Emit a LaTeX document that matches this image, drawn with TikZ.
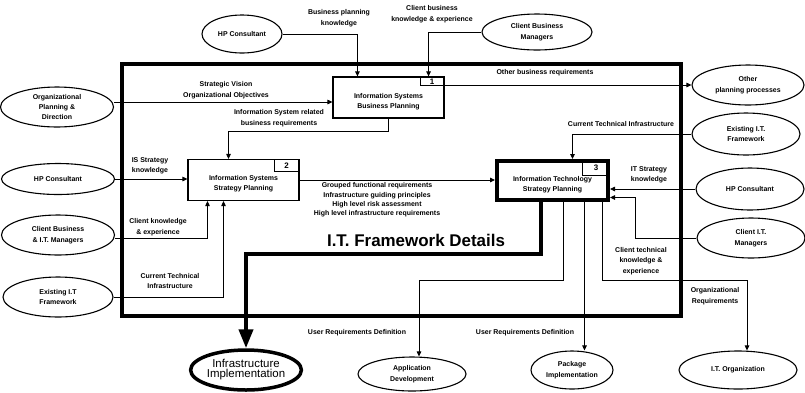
\documentclass[tikz,border=0pt]{standalone}
\usepackage{fontspec}
\setmainfont{Liberation Sans}
\usepackage{tikz}
\usetikzlibrary{shapes.geometric, arrows.meta}

\newcommand{\lblfont}{\fontsize{7}{10.5}\selectfont\bfseries}
\newcommand{\boxtop}{\rule{0pt}{13pt}}
\tikzset{
  procbox/.style={draw, line width=1.1bp, minimum width=111bp, minimum height=41bp,
    inner sep=0pt, align=center, font=\lblfont},
  numtab/.style={draw, line width=0.9bp, inner sep=0pt, font=\fontsize{8}{8}\selectfont\bfseries},
  extent/.style={ellipse, draw, line width=1.1bp, inner sep=0pt, align=center, font=\lblfont},
  flow/.style={line width=0.9bp, -{Triangle[length=5bp,width=4.5bp]}},
  lbl/.style={align=center, inner sep=0pt, font=\lblfont},
}

\begin{document}
\begin{tikzpicture}[x=1bp, y=-1bp]
\useasboundingbox (0,0) rectangle (805,392);

\draw[line width=4bp] (122,64) rectangle (681,316);

\node[procbox] (isbp) at (388.5,97.5) {\boxtop Information Systems\\Business Planning};
\node[numtab, minimum width=24bp, minimum height=9bp, anchor=north east] (tab1) at (isbp.north east) {1};
\node[procbox] (issp) at (243.5,180) {\boxtop Information Systems\\Strategy Planning};
\node[numtab, minimum width=25bp, minimum height=12bp, anchor=north east] (tab2) at (issp.north east) {2};
\node[procbox, line width=4bp, minimum height=39bp] (itsp) at (552.5,180.5) {\boxtop Information Technology\\Strategy Planning};
\node[numtab, minimum width=27bp, minimum height=16bp, anchor=north east] (tab3) at (itsp.north east) {3};

\node[font=\fontsize{17}{17}\selectfont\bfseries] (title) at (416,240) {I.T. Framework Details};

% outside entities
\node[extent, minimum width=80bp, minimum height=38bp] (hpT) at (242,34) {HP Consultant};
\node[extent, minimum width=110bp, minimum height=36bp] (cbm) at (537,32) {Client Business\\Managers};
\node[extent, minimum width=113bp, minimum height=40bp] (opd) at (57,107) {Organizational\\Planning \&\\Direction};
\node[extent, minimum width=112bp, minimum height=40bp] (other) at (748,85) {Other\\planning processes};
\node[extent, minimum width=108bp, minimum height=42bp] (exR) at (746,134) {Existing I.T.\\Framework};
\node[extent, minimum width=108bp, minimum height=42bp] (hpR) at (750,189) {HP Consultant};
\node[extent, minimum width=108bp, minimum height=40bp] (citm) at (751,238) {Client I.T.\\Managers};
\node[extent, minimum width=113bp, minimum height=31bp] (hpL) at (58,179) {HP Consultant};
\node[extent, minimum width=113bp, minimum height=40bp] (cbitm) at (58,235) {Client Business\\\& I.T. Managers};
\node[extent, minimum width=110bp, minimum height=40bp] (exL) at (58,297) {Existing I.T\\Framework};
\node[extent, line width=3.5bp, minimum width=110bp, minimum height=40bp,
  font=\fontsize{11.5}{10}\selectfont] (infra) at (246,370) {Infrastructure\\Implementation};
\node[extent, minimum width=108bp, minimum height=34bp] (appdev) at (412,374) {Application\\Development};
\node[extent, minimum width=82bp, minimum height=38bp] (pkg) at (572,370) {Package\\Implementation};
\node[extent, minimum width=118bp, minimum height=38bp] (ito) at (738,370) {I.T. Organization};

\coordinate (opdout) at ([yshift=5bp]opd.east);
\coordinate (cbitmout) at ([yshift=-3bp]cbitm.east);

% flows
\draw[flow] (hpT.east) -| ([xshift=25bp]isbp.north west);
\draw[flow] (cbm.west) -| ([xshift=-16bp]isbp.north east);
\draw[flow] (opdout) -- (opdout -| isbp.west);
\draw[flow] (isbp.south) -- ++(0,13) -| ([xshift=-15bp]issp.north);
\draw[flow] (other.west -| isbp.east) -- (other.west);
\draw[flow] (hpL.east) -- (hpL.east -| issp.west);
\draw[flow] (cbitmout) -| ([xshift=-36bp]issp.south);
\draw[flow] (exL.east) -| ([xshift=-20bp]issp.south);
\draw[flow] (issp.east) -- (issp.east -| itsp.west);
\draw[flow] (exR.west) -| ([xshift=20bp]itsp.north);
\draw[flow] (hpR.west) -- (hpR.west -| itsp.east);
\draw[flow] (citm.west) -| ([xshift=25bp,yshift=-17bp]itsp.east) -- ([yshift=-17bp]itsp.east);
\draw[line width=4bp, -{Triangle[length=19bp,width=14bp]}] ([xshift=-12bp]itsp.south) -- ++(0,52) -| (infra.north);
\draw[flow] ([xshift=10.5bp]itsp.south) -- ++(0,78) -| ([xshift=7bp]appdev.north);
\draw[flow] ([xshift=32bp]itsp.south) -- ([xshift=32bp]itsp.south |- pkg.north);
\draw[flow] ([xshift=49.5bp]itsp.south) -- ++(0,78) -| ([xshift=9bp]ito.north);

% flow labels
\node[lbl] (l1) at (339,18) {Business planning\\knowledge};
\node[lbl] (l2) at (432,14) {Client business\\knowledge \& experience};
\node[lbl] (l3) at (226,90) {Strategic Vision\\Organizational Objectives};
\node[lbl] (l4) at (279,118) {Information System related\\business requirements};
\node[lbl] (l5) at (545,73) {Other business requirements};
\node[lbl] (l6) at (150,166) {IS Strategy\\knowledge};
\node[lbl] (l7) at (158,227) {Client knowledge\\\& experience};
\node[lbl] (l8) at (170,281) {Current Technical\\Infrastructure};
\node[lbl, font=\fontsize{7}{9.3}\selectfont\bfseries] (l9) at (377,200)
  {Grouped functional requirements\\Infrastructure guiding principles\\High level risk assessment\\High level infrastructure requirements};
\node[lbl] (l10) at (621,124) {Current Technical Infrastructure};
\node[lbl] (l11) at (649,175) {IT Strategy\\knowledge};
\node[lbl] (l12) at (641,261) {Client technical\\knowledge \&\\experience};
\node[lbl] (l13) at (715,296) {Organizational\\Requirements};
\node[lbl] (l14) at (357,333) {User Requirements Definition};
\node[lbl] (l15) at (525,333) {User Requirements Definition};

\end{tikzpicture}
\end{document}
